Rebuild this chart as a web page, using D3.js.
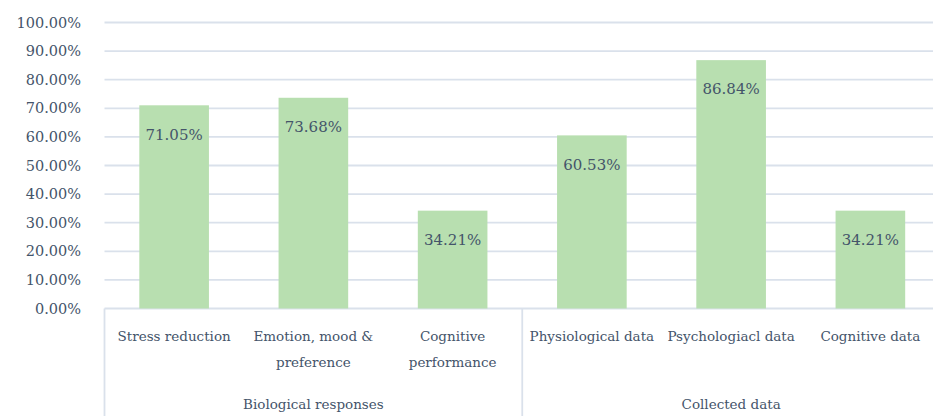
<!DOCTYPE html>
<html>
<head>
<meta charset="utf-8">
<script src="https://cdn.jsdelivr.net/npm/d3@7"></script>
<style>
  body { margin: 0; background: #fff; }
  text { font-family: "DejaVu Serif", serif; fill: #44546A; }
</style>
</head>
<body>
<div id="chart"></div>
<script>
// data
const categories = ['Stress reduction', 'Emotion, mood & preference', 'Cognitive performance',
    'Physiological data', 'Psychologiacl data', 'Cognitive data'];
const categoryLines = [['Stress reduction'], ['Emotion, mood &', 'preference'], ['Cognitive', 'performance'],
    ['Physiological data'], ['Psychologiacl data'], ['Cognitive data']];
const values = [71.05, 73.68, 34.21, 60.53, 86.84, 34.21];
const groups = ['Biological responses', 'Collected data'];
const groupSizes = [3, 3];
const yTicks = [0, 10, 20, 30, 40, 50, 60, 70, 80, 90, 100];

const W = 933, H = 416;
const plotLeft = 104.5, plotRight = 940, plotTop = 22.5, base = 308.5;

const svg = d3.select('#chart').append('svg')
    .attr('width', W)
    .attr('height', H);

const x = d3.scaleBand()
    .domain(categories)
    .range([plotLeft, plotRight])
    .paddingInner(0.5)
    .paddingOuter(0.25);

const y = d3.scaleLinear()
    .domain([0, 100])
    .range([base, plotTop]);

// gridlines
svg.append('g')
    .selectAll('line')
    .data(yTicks)
    .enter()
    .append('line')
    .attr('x1', plotLeft)
    .attr('x2', plotRight)
    .attr('y1', d => y(d))
    .attr('y2', d => y(d))
    .attr('stroke', '#DAE1EB')
    .attr('stroke-width', 1.8);

// y labels
svg.append('g')
    .selectAll('text')
    .data(yTicks)
    .enter()
    .append('text')
    .attr('x', 81)
    .attr('y', d => y(d))
    .attr('dy', '0.35em')
    .attr('text-anchor', 'end')
    .attr('font-size', '14.5px')
    .text(d => d.toFixed(2) + '%');

// bars
svg.selectAll('.bar')
    .data(values)
    .enter()
    .append('rect')
    .attr('class', 'bar')
    .attr('x', (d, i) => x(categories[i]))
    .attr('width', x.bandwidth())
    .attr('y', d => y(d))
    .attr('height', d => base - y(d))
    .attr('fill', '#B8DFB0');

// value labels
svg.selectAll('.val')
    .data(values)
    .enter()
    .append('text')
    .attr('x', (d, i) => x(categories[i]) + x.bandwidth() / 2)
    .attr('y', d => y(d) + 29)
    .attr('dy', '0.35em')
    .attr('text-anchor', 'middle')
    .attr('font-size', '15px')
    .text(d => d.toFixed(2) + '%');

// category axis box
const step = x.step();
const seps = [0];
groupSizes.reduce((acc, n) => { seps.push(acc + n); return acc + n; }, 0);

svg.append('g')
    .selectAll('line')
    .data(seps)
    .enter()
    .append('line')
    .attr('x1', d => plotLeft + d * step)
    .attr('x2', d => plotLeft + d * step)
    .attr('y1', base)
    .attr('y2', H)
    .attr('stroke', '#DAE1EB')
    .attr('stroke-width', 1.8);

// category labels
const cat = svg.selectAll('.cat')
    .data(categoryLines)
    .enter()
    .append('text')
    .attr('class', 'cat')
    .attr('text-anchor', 'middle')
    .attr('font-size', '13.5px');

cat.selectAll('tspan')
    .data((d, i) => d.map(t => ({ t, i })))
    .enter()
    .append('tspan')
    .attr('x', d => x(categories[d.i]) + x.bandwidth() / 2)
    .attr('y', (d, j) => 341 + j * 26)
    .text(d => d.t);

// group labels
let start = 0;
groups.forEach((g, gi) => {
    const n = groupSizes[gi];
    svg.append('text')
        .attr('x', plotLeft + (start + n / 2) * step)
        .attr('y', 409)
        .attr('text-anchor', 'middle')
        .attr('font-size', '13.5px')
        .text(g);
    start += n;
});
</script>
</body>
</html>
